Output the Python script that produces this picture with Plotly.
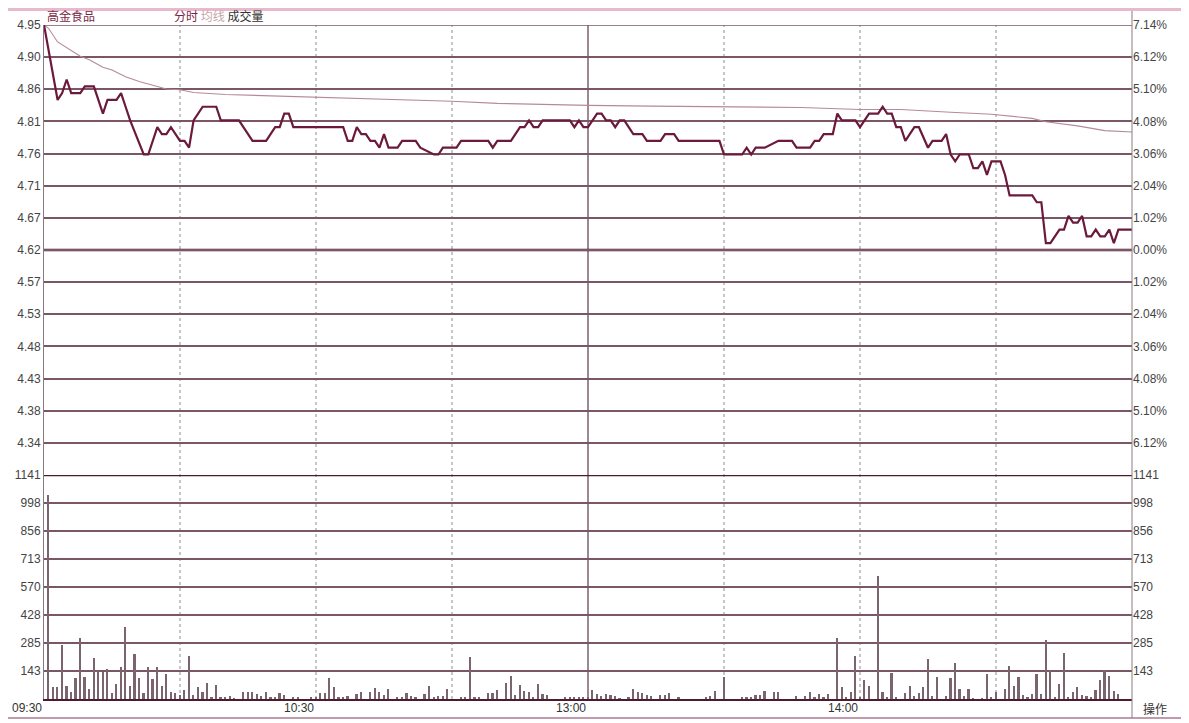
import plotly.graph_objects as go

# ---------------- data ----------------
stock_name = "高金食品"
prev_close = 4.62

price_minutes = [0, 3, 4, 5, 6, 8, 9, 11, 13, 14, 16, 17, 18, 19, 22, 23, 25, 26, 27, 28,
                 30, 31, 32, 33, 35, 38, 39, 43, 46, 49, 51, 52, 53, 54, 55, 66, 67, 68, 69, 70,
                 71, 72, 73, 74, 75, 76, 78, 79, 82, 83, 86, 87, 88, 91, 92, 98, 99, 100, 103, 104,
                 105, 106, 107, 108, 109, 110, 116, 117, 118, 119, 120, 122, 123, 124, 125, 126, 127, 128, 130, 132,
                 133, 136, 137, 139, 140, 149, 150, 154, 155, 156, 157, 159, 162, 165, 166, 169, 170, 171, 172, 174,
                 175, 176, 179, 180, 182, 184, 185, 186, 187, 188, 189, 190, 192, 193, 195, 196, 198, 199, 200, 201,
                 202, 204, 205, 206, 207, 208, 209, 211, 212, 213, 218, 219, 220, 221, 222, 224, 225, 226, 227, 228,
                 229, 230, 231, 232, 233, 234, 235, 236, 237, 240]
price_values = [4.95, 4.84, 4.85, 4.87, 4.85, 4.85, 4.86, 4.86, 4.82, 4.84, 4.84, 4.85, 4.83, 4.81, 4.76, 4.76, 4.80, 4.79, 4.79, 4.80,
                4.78, 4.78, 4.77, 4.81, 4.83, 4.83, 4.81, 4.81, 4.78, 4.78, 4.80, 4.80, 4.82, 4.82, 4.80, 4.80, 4.78, 4.78, 4.80, 4.79,
                4.79, 4.78, 4.78, 4.77, 4.79, 4.77, 4.77, 4.78, 4.78, 4.77, 4.76, 4.76, 4.77, 4.77, 4.78, 4.78, 4.77, 4.78, 4.78, 4.79,
                4.80, 4.80, 4.81, 4.80, 4.80, 4.81, 4.81, 4.80, 4.81, 4.80, 4.80, 4.82, 4.82, 4.81, 4.81, 4.80, 4.81, 4.81, 4.79, 4.79,
                4.78, 4.78, 4.79, 4.79, 4.78, 4.78, 4.76, 4.76, 4.77, 4.76, 4.77, 4.77, 4.78, 4.78, 4.77, 4.77, 4.78, 4.78, 4.79, 4.79,
                4.82, 4.81, 4.81, 4.80, 4.82, 4.82, 4.83, 4.82, 4.82, 4.80, 4.80, 4.78, 4.80, 4.80, 4.77, 4.78, 4.78, 4.79, 4.76, 4.75,
                4.76, 4.76, 4.74, 4.74, 4.75, 4.73, 4.75, 4.75, 4.73, 4.70, 4.70, 4.69, 4.69, 4.63, 4.63, 4.65, 4.65, 4.67, 4.66, 4.66,
                4.67, 4.64, 4.64, 4.65, 4.64, 4.64, 4.65, 4.63, 4.65, 4.65]

avg_minutes = [0, 1, 3, 5, 6, 8, 10, 13, 15, 18, 21, 25, 27, 30, 33, 40, 51, 62, 73, 80,
               90, 100, 110, 120, 134, 150, 160, 167, 180, 189, 200, 209, 218, 221, 228, 234, 240]
avg_values = [4.950, 4.945, 4.925, 4.917, 4.913, 4.904, 4.899, 4.888, 4.884, 4.874, 4.867, 4.859, 4.856, 4.855, 4.851,
              4.848, 4.846, 4.844, 4.842, 4.840, 4.838, 4.835, 4.833, 4.832, 4.831, 4.830, 4.829, 4.829, 4.826, 4.826,
              4.822, 4.819, 4.813, 4.808, 4.802, 4.795, 4.793]

volume = [1039, 63, 63, 275, 66, 34, 105, 312, 112, 49,
          210, 143, 136, 153, 29, 76, 165, 368, 68, 227,
          105, 29, 165, 100, 165, 68, 129, 37, 29, 20,
          46, 221, 20, 61, 37, 83, 8, 71, 8, 12,
          15, 5, 0, 34, 34, 34, 24, 15, 36, 12,
          8, 32, 22, 0, 8, 8, 0, 0, 8, 8,
          29, 29, 105, 63, 8, 7, 15, 0, 24, 34,
          0, 37, 58, 34, 20, 53, 0, 7, 7, 29,
          15, 7, 0, 24, 68, 12, 15, 15, 53, 0,
          0, 8, 8, 216, 8, 8, 0, 29, 29, 46,
          0, 83, 117, 20, 71, 41, 34, 8, 76, 25,
          19, 0, 0, 0, 10, 10, 8, 8, 8, 8,
          46, 25, 15, 25, 19, 15, 5, 0, 8, 53,
          34, 29, 20, 15, 0, 20, 20, 29, 0, 8,
          0, 0, 0, 0, 0, 8, 15, 41, 0, 114,
          0, 0, 0, 12, 12, 12, 20, 20, 42, 0,
          37, 37, 0, 0, 0, 15, 0, 15, 34, 12,
          24, 8, 24, 0, 312, 63, 8, 37, 219, 8,
          97, 68, 0, 626, 34, 8, 131, 8, 0, 29,
          68, 15, 29, 63, 204, 15, 114, 0, 15, 105,
          185, 53, 15, 53, 5, 0, 5, 126, 8, 34,
          0, 49, 170, 68, 110, 20, 8, 24, 126, 24,
          300, 148, 8, 76, 233, 8, 34, 63, 20, 15,
          8, 46, 97, 148, 117, 42, 25, 0, 0, 0]
volume_minutes = list(range(1, len(volume) + 1))

price_labels = ["4.95", "4.90", "4.86", "4.81", "4.76", "4.71", "4.67", "4.62",
                "4.57", "4.53", "4.48", "4.43", "4.38", "4.34"]
pct_labels = ["7.14%", "6.12%", "5.10%", "4.08%", "3.06%", "2.04%", "1.02%", "0.00%",
              "1.02%", "2.04%", "3.06%", "4.08%", "5.10%", "6.12%"]
pct_steps = [7, 6, 5, 4, 3, 2, 1, 0, -1, -2, -3, -4, -5, -6]
pct_unit = 1.02
vol_max = 1141
vol_labels = ["1141", "998", "856", "713", "570", "428", "285", "143"]
vol_steps = [8, 7, 6, 5, 4, 3, 2, 1]
time_labels = ["09:30", "10:30", "13:00", "14:00"]
time_label_minutes = [0, 60, 120, 180]
dotted_minutes = [30, 60, 90, 150, 180, 210]
session_break = 120

# ---------------- derived scales ----------------
price_ticks = [prev_close * (1 + s * pct_unit / 100) for s in pct_steps]
price_top = prev_close * (1 + 7 * pct_unit / 100)
price_bot = prev_close * (1 - 7 * pct_unit / 100)
vol_ticks = [vol_max * s / 8 for s in vol_steps]

# ---------------- layout geometry (page has an 8px body margin) ----------------
OFF = 8
W, H = 1189 - OFF, 723 - OFF
PL, PR, PT, PB = 44, 1132, 25, 699          # plot area in window pixels
L, T = PL - OFF, PT - OFF
R = W - (PR - OFF)
B = H - (PB - OFF)
plot_w = PR - PL
plot_h = PB - PT
split = (PB - 475) / plot_h  # volume/price boundary


def px_x(X):
    return (X - PL) / plot_w


def px_y(Y):
    return (PB - Y) / plot_h


GRID = "#7b5666"
THICK = "#4d1a30"
PRICE = "#6b1a3c"
AVG = "#b48a9a"
VOLC = "#7a646e"
LBL = "#444444"
FONT = "Liberation Sans, Arial, sans-serif"

fig = go.Figure()

fig.add_trace(go.Bar(x=volume_minutes, y=volume, xaxis="x", yaxis="y2",
                     marker=dict(color=VOLC, line=dict(width=0)), width=0.38,
                     showlegend=False, hoverinfo="skip"))
fig.add_trace(go.Scatter(x=avg_minutes, y=avg_values, xaxis="x", yaxis="y", mode="lines",
                         line=dict(color=AVG, width=1.1), showlegend=False, hoverinfo="skip"))
fig.add_trace(go.Scatter(x=price_minutes, y=price_values, xaxis="x", yaxis="y", mode="lines",
                         line=dict(color=PRICE, width=2.2), showlegend=False, hoverinfo="skip"))

axis_font = dict(family=FONT, size=12, color=LBL)

fig.update_layout(
    width=W, height=H,
    margin=dict(l=L, r=R, t=T, b=B, pad=0, autoexpand=False),
    paper_bgcolor="white", plot_bgcolor="white",
    bargap=0,
    xaxis=dict(domain=[0, 1], range=[0, 240], anchor="y2", showgrid=False, zeroline=False,
               showticklabels=False, ticks="", showline=True, linecolor=THICK, linewidth=1.5,
               automargin=False),
    yaxis=dict(domain=[split, 1], range=[price_bot, price_top], anchor="x",
               tickvals=price_ticks, ticktext=price_labels, tickfont=axis_font,
               showgrid=True, gridcolor=GRID, gridwidth=1.5, zeroline=False,
               showline=True, linecolor="#8a7a80", linewidth=1, ticks="", automargin=False),
    yaxis3=dict(overlaying="y", side="right", anchor="x", range=[price_bot, price_top],
                tickvals=price_ticks, ticktext=pct_labels, tickfont=axis_font,
                showgrid=False, zeroline=False, showline=False, ticks="", automargin=False),
    yaxis2=dict(domain=[0, split], range=[0, vol_max], anchor="x",
                tickvals=vol_ticks, ticktext=vol_labels, tickfont=axis_font,
                showgrid=True, gridcolor=GRID, gridwidth=1.5, zeroline=False,
                showline=True, linecolor="#8a7a80", linewidth=1, ticks="", automargin=False),
    yaxis4=dict(overlaying="y2", side="right", anchor="x", range=[0, vol_max],
                tickvals=vol_ticks, ticktext=vol_labels, tickfont=axis_font,
                showgrid=False, zeroline=False, showline=False, ticks="", automargin=False),
)
# invisible traces to activate right axes
fig.add_trace(go.Scatter(x=[None], y=[None], xaxis="x", yaxis="y3", showlegend=False))
fig.add_trace(go.Scatter(x=[None], y=[None], xaxis="x", yaxis="y4", showlegend=False))

shapes = []
for m in dotted_minutes:
    shapes.append(dict(type="line", xref="x", yref="paper", x0=m, x1=m, y0=0, y1=1,
                       line=dict(color="#8c8c8c", width=1, dash="dot"), layer="below"))
shapes.append(dict(type="line", xref="x", yref="paper", x0=session_break, x1=session_break, y0=0, y1=1,
                   line=dict(color="#6a4a58", width=1.3), layer="below"))
shapes.append(dict(type="line", xref="paper", yref="y", x0=0, x1=1, y0=price_top, y1=price_top,
                   line=dict(color=GRID, width=1.5), layer="below"))
shapes.append(dict(type="line", xref="paper", yref="y", x0=0, x1=1, y0=prev_close, y1=prev_close,
                   line=dict(color=THICK, width=2.5), layer="below"))
shapes.append(dict(type="line", xref="paper", yref="y2", x0=0, x1=1, y0=vol_max, y1=vol_max,
                   line=dict(color=THICK, width=2.5), layer="below"))
# frame lines
shapes.append(dict(type="line", xref="paper", yref="paper", x0=1, x1=1, y0=px_y(718), y1=px_y(9),
                   line=dict(color="#8a7a80", width=1)))
shapes.append(dict(type="line", xref="paper", yref="paper", x0=px_x(8), x1=px_x(1187), y0=px_y(718), y1=px_y(718),
                   line=dict(color="#a87890", width=1.5)))
shapes.append(dict(type="line", xref="paper", yref="paper", x0=px_x(8), x1=px_x(1187), y0=px_y(9.5), y1=px_y(9.5),
                   line=dict(color="#e8b8cc", width=3)))
shapes.append(dict(type="line", xref="paper", yref="paper", x0=px_x(1185), x1=px_x(1185), y0=px_y(718), y1=px_y(9),
                   line=dict(color="#e0b0c4", width=2)))
fig.update_layout(shapes=shapes)

annotations = []
for lab, m in zip(time_labels, time_label_minutes):
    annotations.append(dict(x=m, xref="x", y=px_y(708), yref="paper", text=lab, showarrow=False,
                            xanchor="right", yanchor="middle", xshift=0,
                            font=dict(family=FONT, size=12, color="#333333")))
annotations.append(dict(x=px_x(1155), xref="paper", y=px_y(708), yref="paper", text="操作",
                        showarrow=False, xanchor="center", yanchor="middle",
                        font=dict(family="Noto Sans CJK SC", size=12, color="#333333")))
annotations.append(dict(x=px_x(45), xref="paper", y=px_y(16), yref="paper", text=stock_name,
                        showarrow=False, xanchor="left", yanchor="middle",
                        font=dict(family="Noto Sans CJK SC", size=12, color="#7a1f45")))
annotations.append(dict(x=px_x(172), xref="paper", y=px_y(16), yref="paper",
                        text="<span style='color:#7a1f45'>分时</span> "
                             "<span style='color:#c4a8a8'>均线</span> "
                             "<span style='color:#333333'>成交量</span>",
                        showarrow=False, xanchor="left", yanchor="middle",
                        font=dict(family="Noto Sans CJK SC", size=12)))
fig.update_layout(annotations=annotations)

fig.write_html("out.html")
